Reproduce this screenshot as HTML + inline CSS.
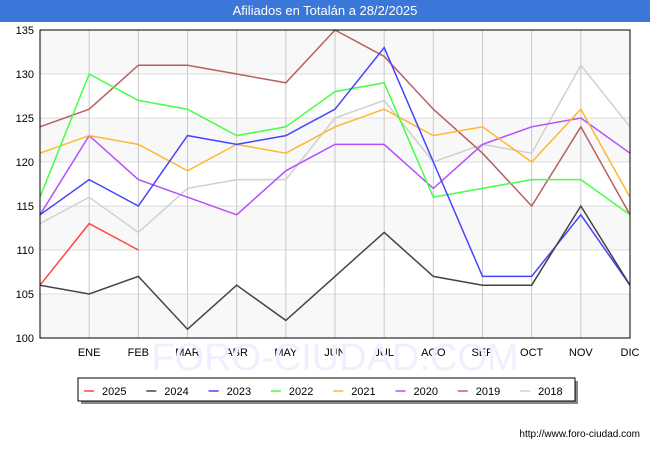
<!DOCTYPE html>
<html><head><meta charset="utf-8"><style>
body{margin:0;width:650px;height:450px;background:#fff;font-family:"Liberation Sans",sans-serif;overflow:hidden}
#title{position:absolute;left:0;top:0;width:650px;height:22px;background:#3b77d9;color:#fff;font-size:13px;text-align:center;line-height:22px}
</style></head><body>
<div id="title">Afiliados en Totalán a 28/2/2025</div>
<svg id="chart" width="650" height="450" style="position:absolute;left:0;top:0"></svg>
<script>
const months=["","ENE","FEB","MAR","ABR","MAY","JUN","JUL","AGO","SEP","OCT","NOV","DIC"];
const yTicks=[100,105,110,115,120,125,130,135];
const seriesNames=["2025","2024","2023","2022","2021","2020","2019","2018"];
const colors=["#ff4444","#444444","#4444ff","#44ff44","#ffb733","#b44fff","#b86060","#d0d0d0"];
const s2025=[106,113,110];
const s2024=[106,105,107,101,106,102,107,112,107,106,106,115,106];
const s2023=[114,118,115,123,122,123,126,133,120,107,107,114,106];
const s2022=[116,130,127,126,123,124,128,129,116,117,118,118,114];
const s2021=[121,123,122,119,122,121,124,126,123,124,120,126,116];
const s2020=[114,123,118,116,114,119,122,122,117,122,124,125,121];
const s2019=[124,126,131,131,130,129,135,132,126,121,115,124,114];
const s2018=[113,116,112,117,118,118,125,127,120,122,121,131,124];
const allSeries=[s2025,s2024,s2023,s2022,s2021,s2020,s2019,s2018];
const X0=40,X1=630,Y0=338,Y1=30;
const xs=i=>X0+i*(X1-X0)/12;
const ys=v=>Y0-(v-100)*(Y0-Y1)/35;
const svg=document.getElementById('chart');
const NS="http://www.w3.org/2000/svg";
function mk(t,a){const e=document.createElementNS(NS,t);for(const k in a)e.setAttribute(k,a[k]);svg.appendChild(e);return e;}
// bands
for(let i=0;i<yTicks.length-1;i++){if(i%2===0){const b=mk('rect',{x:X0,y:ys(yTicks[i+1]),width:X1-X0,height:ys(yTicks[i])-ys(yTicks[i+1]),fill:'#f8f8f8'});

}}
yTicks.forEach(v=>{const l=mk('line',{x1:X0,x2:X1,y1:ys(v),y2:ys(v),stroke:'#dddddd'});


const t=mk('text',{x:34,y:ys(v)+4,'text-anchor':'end','font-size':'11',fill:'#000'});t.textContent=v;

});
months.forEach((m,i)=>{if(i>0){const l=mk('line',{x1:xs(i),x2:xs(i),y1:Y1,y2:Y0,stroke:'#c8c8c8'});


const t=mk('text',{x:xs(i),y:356,'text-anchor':'middle','font-size':'11',fill:'#000'});t.textContent=m;

}});
const wm=mk('text',{x:335,y:370,'text-anchor':'middle','font-size':'38',fill:'#eef0ff'});wm.textContent='FORO-CIUDAD.COM';


for(let k=allSeries.length-1;k>=0;k--){const pts=allSeries[k].map((v,i)=>xs(i)+','+ys(v)).join(' ');
const p=mk('polyline',{points:pts,fill:'none',stroke:colors[k],'stroke-width':'1.5'});

}
const fr=mk('rect',{x:X0,y:Y1,width:X1-X0,height:Y0-Y1,fill:'none',stroke:'#000'});


// legend
const sh=mk('rect',{x:81,y:381,width:497,height:23,fill:'#888'});


const lg=mk('rect',{x:78,y:378,width:497,height:23,fill:'#fff',stroke:'#000'});


seriesNames.forEach((n,k)=>{const bx=84+k*62.3;
const l=mk('line',{x1:bx,x2:bx+10,y1:391,y2:391,stroke:colors[k],'stroke-width':'1.5'});


const t=mk('text',{x:bx+18,y:395,'font-size':'11',fill:'#000'});t.textContent=n;

});
const u=mk('text',{x:640,y:437,'text-anchor':'end','font-size':'10',fill:'#000'});u.textContent='http://www.foro-ciudad.com';


</script>
</body></html>
